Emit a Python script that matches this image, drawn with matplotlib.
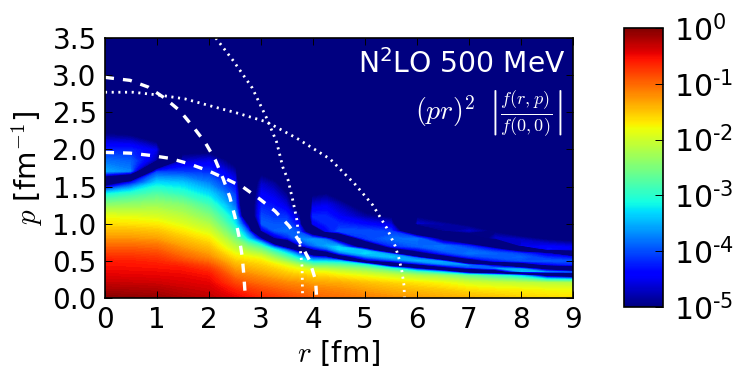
import numpy as np
import matplotlib
matplotlib.use('Agg')
import matplotlib.pyplot as plt
from matplotlib.cm import ScalarMappable
from matplotlib.colors import LogNorm

# grid of the map, r in fm and p in 1/fm
r_grid = [0, 0.5, 1, 1.5, 2, 2.5, 2.75, 3, 3.25, 3.5, 3.75, 4, 4.25, 4.5, 5, 5.5, 6, 6.5, 7, 7.5, 8, 8.5, 9]
p_grid = [0, 0.1, 0.2, 0.3, 0.35, 0.4, 0.45, 0.5, 0.55, 0.6, 0.65, 0.7, 0.8, 0.9,
          1.0, 1.1, 1.25, 1.4, 1.55, 1.7, 1.85, 2.0, 2.2, 2.5]

# one list per r value: -log10|f|, sign = sign of the lobe
lobes = [
    [.03, .18, .32, .43, .48, .52, .56, .6, .68, .8, .9, 1.0, 1.25, 1.45, 1.65, 1.85, 2.4, 3.15, 7, -3.5, -3.8, -4.2, -4.9, -6],
    [.06, .2, .33, .44, .49, .53, .57, .62, .7, .8, .9, 1.0, 1.25, 1.45, 1.68, 1.88, 2.35, 2.95, 4.3, -3.7, -3.9, -4.2, -5.0, -6],
    [.1, .22, .35, .46, .5, .55, .6, .66, .75, .85, .95, 1.05, 1.3, 1.5, 1.72, 1.95, 2.3, 2.75, 3.3, 4.1, -4.8, -4.5, -5.6, -6.5],
    [.2, .3, .4, .48, .53, .58, .68, .85, .97, 1.07, 1.2, 1.3, 1.5, 1.7, 1.92, 2.12, 2.44, 2.95, 3.4, 4.1, 4.7, 5.3, -7, -7],
    [.28, .36, .45, .55, .63, .75, .9, 1.05, 1.2, 1.3, 1.4, 1.5, 1.7, 1.95, 2.2, 2.45, 2.85, 3.3, 3.75, 4.15, 4.55, 5.3, -7, -7],
    [.45, .6, .82, 1.05, 1.18, 1.3, 1.42, 1.55, 1.68, 1.82, 2.0, 2.15, 2.5, 2.85, 3.2, 3.4, 3.85, 4.1, 4.4, 4.8, 5.3, 5.9, -7, -7],
    [.55, .72, .95, 1.15, 1.27, 1.38, 1.5, 1.62, 1.78, 2.0, 2.25, 2.5, 3.3, 4.0, 5.2, -6.5, -6, -6, -6, -6.5, -6.5, -7, -7, -7],
    [.65, .82, 1.03, 1.25, 1.36, 1.48, 1.58, 1.7, 1.9, 2.2, 2.5, 2.9, 4.8, -4.6, -3.9, -4.0, -4.2, -4.4, -4.65, -5.1, -5.8, -7, -7, -7],
    [.72, .9, 1.1, 1.35, 1.47, 1.58, 1.72, 2.0, 2.3, 2.65, 3.1, 4.2, -4.8, -3.9, -3.95, -4.1, -4.3, -4.55, -4.85, -5.4, -6.2, -7, -7, -7],
    [.8, .97, 1.18, 1.45, 1.58, 1.72, 1.95, 2.35, 2.75, 3.2, 4.0, 8, -4.2, -3.8, -3.95, -4.1, -4.55, -4.9, -5.3, -5.8, -7, -7, -7, -7],
    [.87, 1.03, 1.22, 1.52, 1.68, 1.88, 2.3, 2.85, 3.4, 4.2, 7, -4.4, -3.7, -4.0, -4.4, -4.8, -5.5, -7, 7, 7, 7, 7, 7, 7],
    [.95, 1.1, 1.3, 1.58, 1.78, 2.15, 2.7, 3.4, 4.2, 8, -4.5, -3.8, -3.55, -7, 4.5, 4.2, 4.6, 5.1, 5.8, 6.5, 7, 7, 7, 7],
    [1.0, 1.13, 1.33, 1.62, 1.83, 2.2, 2.7, 3.4, 4.5, -5.5, -3.9, -3.5, -3.8, 4.5, 4.2, 4.2, 4.5, 5.0, 5.5, 6.5, 7, 7, 7, 7],
    [1.03, 1.17, 1.35, 1.72, 1.95, 2.3, 2.75, 3.5, -5.9, -3.8, -3.25, -3.3, -5.5, 4.0, 4.2, 4.45, 4.75, 5.3, 5.9, 7, 7, 7, 7, 7],
    [1.12, 1.27, 1.47, 1.85, 2.15, 2.5, 3.2, -4.7, -3.7, -3.2, -3.4, -6.5, 4.1, 4.0, 4.4, 4.85, 5.4, 6, 7, 7, 7, 7, 7, 7],
    [1.2, 1.37, 1.57, 2.0, 2.4, 3.1, -6.3, -3.9, -3.3, -3.6, 6.5, 4.2, 3.85, 4.1, 4.6, 5.1, 5.6, 6.3, 7, 7, 7, 7, 7, 7],
    [1.27, 1.45, 1.67, 2.2, 2.85, 5.0, -4.3, -3.4, -3.8, 6.2, 4.4, 3.9, 3.8, -8, -4.6, -5.0, -5.8, -7, -7, -7, -7, -7, -7, -7],
    [1.35, 1.52, 1.78, 2.35, 3.5, -5.2, -3.6, -3.5, 6.5, 4.2, 3.85, 3.8, 5.5, -4.9, -4.8, -5.4, -6.2, -7, -7, -7, -7, -7, -7, -7],
    [1.42, 1.62, 1.95, 2.65, 8, -4, -3.6, 7, 4.2, 3.8, 3.9, 4.2, -6, -4.6, -5.1, -5.8, -7, -7, -7, -7, -7, -7, -7, -7],
    [1.48, 1.68, 2.03, 2.95, -6.3, -3.5, -4.7, 4.3, 3.95, 3.9, 4.3, 6.5, -4.6, -5.0, -5.8, -7, -7, -7, -7, -7, -7, -7, -7, -7],
    [1.55, 1.72, 2.08, 3.4, -3.4, -3.5, 7.3, 4.0, 3.9, 4.1, 6.7, -4.5, -4.7, -5.5, -6.5, -7, -7, -7, -7, -7, -7, -7, -7, -7],
    [1.6, 1.77, 2.13, 5.8, -3.4, -5.2, 4.5, 3.95, 4.2, 4.7, -4.2, -4.4, -5.0, -5.9, -7, -7, -7, -7, -7, -7, -7, -7, -7, -7],
    [1.65, 1.8, 2.15, 9, -3.5, 9, 4.2, 4.0, 4.4, -5.9, -4.4, -4.5, -5.2, -6, -7, -7, -7, -7, -7, -7, -7, -7, -7, -7],
]

# white curves, (r, p)
dash1_r = [0, .48, .83, 1.15, 1.44, 1.7, 1.93, 2.12, 2.27, 2.4, 2.5, 2.58, 2.64, 2.67, 2.7]
dash1_p = [2.97, 2.93, 2.84, 2.69, 2.52, 2.3, 2.09, 1.86, 1.61, 1.36, 1.09, .82, .55, .31, 0]
dash2_r = [0, .48, .87, 1.25, 1.6, 1.96, 2.31, 2.66, 2.98, 3.27, 3.54, 3.75, 3.93, 4.05, 4.07]
dash2_p = [1.96, 1.95, 1.92, 1.88, 1.81, 1.72, 1.61, 1.49, 1.33, 1.17, .97, .75, .51, .24, 0]
dot1_r = [0, .54, 1.06, 1.54, 2.06, 2.54, 3.11, 3.69, 4.33, 4.81, 5.15, 5.42, 5.58, 5.65, 5.71, 5.75, 5.76]
dot1_p = [2.77, 2.77, 2.73, 2.68, 2.58, 2.49, 2.37, 2.15, 1.87, 1.53, 1.25, .94, .7, .54, .36, .17, 0]
dot2_r = [2.13, 2.46, 2.83, 3.11, 3.3, 3.42, 3.52, 3.62, 3.69, 3.75, 3.79, 3.8]
dot2_p = [3.5, 3.2, 2.83, 2.42, 2.1, 1.76, 1.59, 1.29, 1.05, .69, .42, 0]

cbar_ticks = [1e-5, 1e-4, 1e-3, 1e-2, 1e-1, 1]
cbar_labels = ['10$^{\\text{-}5}$', '10$^{\\text{-}4}$', '10$^{\\text{-}3}$',
               '10$^{\\text{-}2}$', '10$^{\\text{-}1}$', '10$^{0}$']

FS = 20
plt.rcParams['mathtext.fontset'] = 'cm'
plt.rcParams['lines.scale_dashes'] = False

W, H = 739, 383
fig = plt.figure(figsize=(W/100, H/100), dpi=100)
ax = fig.add_axes([105/W, 1-298/H, 468/W, 260/H])
cax = fig.add_axes([624/W, 1-307/H, 38.5/W, 279/H])

# amplitude goes through zero on the nodal lines, so contour a signed root
E = np.array(lobes).T
S = np.sign(E)*10**(-np.abs(E)/4)
e_levels = np.linspace(0, 5, 121)
pos = 10**(-e_levels/4)
levels = np.concatenate([-pos, pos[::-1]])
mids = 0.5*(e_levels[:-1]+e_levels[1:])
cols = plt.cm.jet(1-mids/5)
colors = list(cols)+[plt.cm.jet(0)]+list(cols[::-1])

ax.set_facecolor(plt.cm.jet(0))
ax.contourf(r_grid, p_grid, S, levels=levels, colors=colors, antialiased=False)

ax.plot(dash1_r, dash1_p, color='white', lw=2.4, dashes=(6.5, 6.5))
ax.plot(dash2_r, dash2_p, color='white', lw=2.4, dashes=(6.5, 6.5))
ax.plot(dot1_r, dot1_p, color='white', lw=2, dashes=(1.5, 3.3))
ax.plot(dot2_r, dot2_p, color='white', lw=2, dashes=(1.5, 3.3))

ax.set_xlim(0, 9)
ax.set_ylim(0, 3.5)
ax.set_xticks(range(10))
ax.set_yticks(np.arange(0, 3.6, 0.5))
ax.tick_params(direction='in', top=True, right=True, length=5, width=0.7, labelsize=FS, pad=6)
for s in ax.spines.values():
    s.set_linewidth(1.2)
ax.set_xlabel('$r$ [fm]', fontsize=21, labelpad=3)
ax.set_ylabel('$p$ [fm$^{-1}$]', fontsize=21, labelpad=5)

ax.text(8.85, 3.03, 'N$^2$LO 500 MeV', color='white', fontsize=20.3, ha='right', va='baseline',
        math_fontfamily='dejavusans')
ax.text(7.12, 2.4, r'$(pr)^2$', color='white', fontsize=20, ha='right', va='baseline')
ax.text(8.8, 2.49, r'$\left|\frac{f(r,p)}{f(0,0)}\right|$', color='white',
        fontsize=18.7, ha='right', va='center')

cb = fig.colorbar(ScalarMappable(LogNorm(1e-5, 1), cmap='jet'), cax=cax)
cb.minorticks_off()
cb.set_ticks(cbar_ticks)
cb.set_ticklabels(cbar_labels)
cax.tick_params(direction='in', length=6, width=0.7, labelsize=21.5, pad=8)
for t in cax.get_yticklabels():
    t.set_math_fontfamily('dejavusans')
cb.outline.set_linewidth(1.2)

fig.savefig('out.png', dpi=100)
